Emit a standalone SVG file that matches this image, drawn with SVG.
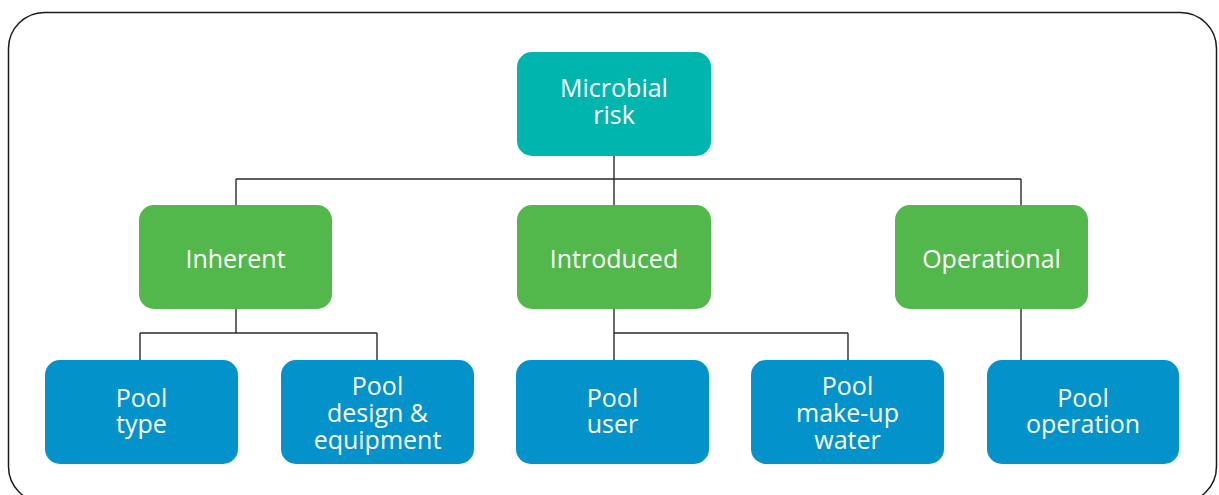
<svg xmlns="http://www.w3.org/2000/svg" width="1219" height="495" viewBox="0 0 1219 495">
<style>
.frame{fill:none;stroke:#1a1a1a;stroke-width:1.5}
.c{fill:none;stroke:#2b2b2b;stroke-width:1.4}
.teal{fill:#00b5ae}
.green{fill:#53b84b}
.blue{fill:#0392c9}
text{font-family:"Open Sans","Noto Sans","Liberation Sans",sans-serif;font-size:25px;fill:#ffffff;text-anchor:middle}
</style>
<rect class="frame" x="8.5" y="12.5" width="1208" height="490" rx="36" ry="36"/>
<g id="connectors">
<path class="c" d="M614 156V179M236 179H1021M236 179V205M614 179V205M1021 179V205"/>
<path class="c" d="M236 309V333M140 333H377M140 333V360M377 333V360"/>
<path class="c" d="M614 309V333H848M614 333V360M848 333V360"/>
<path class="c" d="M1021 309V360"/>
</g>
<g id="microbial-risk">
<rect class="teal" x="517" y="52" width="194" height="104" rx="15"/>
<text x="614" y="97">Microbial</text>
<text x="614" y="124">risk</text>
</g>
<g id="inherent">
<rect class="green" x="139" y="205" width="193" height="104" rx="15"/>
<text x="235.5" y="268">Inherent</text>
</g>
<g id="introduced">
<rect class="green" x="517" y="205" width="194" height="104" rx="15"/>
<text x="614" y="268">Introduced</text>
</g>
<g id="operational">
<rect class="green" x="895" y="205" width="193" height="104" rx="15"/>
<text x="991.5" y="268">Operational</text>
</g>
<g id="pool-type">
<rect class="blue" x="45" y="360" width="193" height="104" rx="15"/>
<text x="141.5" y="407">Pool</text>
<text x="141.5" y="433">type</text>
</g>
<g id="pool-design">
<rect class="blue" x="281" y="360" width="193" height="104" rx="15"/>
<text x="377.5" y="395">Pool</text>
<text x="377.5" y="422">design &amp;</text>
<text x="377.5" y="449">equipment</text>
</g>
<g id="pool-user">
<rect class="blue" x="516" y="360" width="193" height="104" rx="15"/>
<text x="612.5" y="407">Pool</text>
<text x="612.5" y="433">user</text>
</g>
<g id="pool-make-up-water">
<rect class="blue" x="751" y="360" width="193" height="104" rx="15"/>
<text x="847.5" y="395">Pool</text>
<text x="847.5" y="422">make-up</text>
<text x="847.5" y="449">water</text>
</g>
<g id="pool-operation">
<rect class="blue" x="987" y="360" width="192" height="104" rx="15"/>
<text x="1083" y="407">Pool</text>
<text x="1083" y="433">operation</text>
</g>
</svg>
